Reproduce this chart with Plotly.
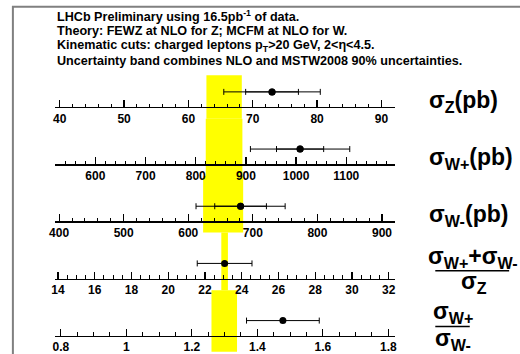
import plotly.graph_objects as go

# ---- data ----
quantities = ["sigma_Z", "sigma_W+", "sigma_W-", "(W+ + W-)/Z", "W+/W-"]
measured = [73.0, 1008.0, 681.0, 23.07, 1.478]
err_inner = [4.1, 47.0, 40.0, 0.0, 0.0]
err_outer = [7.5, 99.0, 69.0, 1.49, 0.111]
theory_low = [62.8, 820.0, 623.0, 22.89, 1.260]
theory_high = [68.3, 893.0, 685.0, 23.25, 1.338]
axis_ranges = [[39.3, 92.1], [520.0, 1197.0], [394.0, 920.0], [13.85, 32.34], [0.783, 1.820]]
major_step = [10, 100, 100, 2, 0.2]
minor_step = [2, 20, 20, 0.5, 0.05]

header_lines = [
    "LHCb Preliminary using 16.5pb<sup>-1</sup> of data.",
    "Theory: FEWZ at NLO for Z; MCFM at NLO for W.",
    "Kinematic cuts: charged leptons p<sub>T</sub>&gt;20 GeV, 2&lt;η&lt;4.5.",
    "Uncertainty band combines NLO and MSTW2008 90% uncertainties.",
]

W, H = 520, 354
def px(x):
    return x / W
def py(y):
    return 1 - y / H

axis_y = [109.5, 168, 226.5, 285, 343.5]      # pixel row of each axis line
band_edges = [77, 121.5, 180, 238, 297, 360]   # pixel rows of band segments
x_left, x_right = 50, 395
FONT = "Liberation Sans"

fig = go.Figure()
layout = dict(
    width=W, height=H, margin=dict(l=0, r=0, t=0, b=0),
    paper_bgcolor="white", plot_bgcolor="rgba(0,0,0,0)",
    showlegend=False,
)
shapes = []
annotations = []

for i in range(5):
    n = "" if i == 0 else str(i + 1)
    xa, ya = "x" + n, "y" + n
    dom_bot = py(axis_y[i])
    dom_top = py(axis_y[i] - 40)
    layout["yaxis" + n] = dict(domain=[dom_bot, dom_top], range=[0, 40],
                                visible=False, fixedrange=True)
    layout["xaxis" + n] = dict(
        domain=[px(x_left), px(x_right)], range=axis_ranges[i], anchor=ya,
        showline=True, linecolor="black", linewidth=1.3, showgrid=False,
        zeroline=False, ticks="inside", ticklen=7, tickwidth=1.2, tickcolor="black",
        tick0=0, dtick=major_step[i], fixedrange=True,
        tickfont=dict(family=FONT, size=12, color="black", weight="bold"),
        minor=dict(ticks="inside", ticklen=3.5, tickwidth=1, tickcolor="black",
                   dtick=minor_step[i], tick0=0, showgrid=False),
    )
    # theory band segment
    shapes.append(dict(type="rect", xref=xa, yref="paper",
                       x0=theory_low[i], x1=theory_high[i],
                       y0=py(band_edges[i + 1]), y1=py(band_edges[i]),
                       fillcolor="#ffff00", line=dict(width=0), layer="below"))
    # outer (total) error
    fig.add_trace(go.Scatter(
        x=[measured[i]], y=[15.5], xaxis=xa, yaxis=ya, mode="markers",
        marker=dict(color="black", size=7),
        error_x=dict(type="data", array=[err_outer[i]], color="black",
                     thickness=1, width=3),
        hoverinfo="skip"))
    if err_inner[i] > 0:
        fig.add_trace(go.Scatter(
            x=[measured[i]], y=[15.5], xaxis=xa, yaxis=ya, mode="markers",
            marker=dict(color="black", size=7),
            error_x=dict(type="data", array=[err_inner[i]], color="black",
                         thickness=1, width=3),
            hoverinfo="skip"))

# frame
shapes.append(dict(type="rect", xref="paper", yref="paper",
                   x0=px(7), x1=1.1, y0=-0.1, y1=py(7),
                   line=dict(color="#808080", width=2), fillcolor="rgba(0,0,0,0)"))

# header
header_y = [16, 31.5, 47, 62.5]
for t, yy in zip(header_lines, header_y):
    annotations.append(dict(text=t, xref="paper", yref="paper", x=px(50), y=py(yy),
                            xanchor="left", yanchor="middle", showarrow=False,
                            font=dict(family=FONT, size=12.6, color="black", weight="bold")))

big = dict(family=FONT, size=23, color="black", weight="bold")
# right-hand labels
simple_labels = ["σ<sub>Z</sub>(pb)", "σ<sub>W+</sub>(pb)", "σ<sub>W-</sub>(pb)"]
for i, t in enumerate(simple_labels):
    annotations.append(dict(text=t, xref="paper", yref="paper", x=px(428), y=py(axis_y[i] - 6),
                            xanchor="left", yanchor="middle", showarrow=False, font=big))

# fraction 1
annotations.append(dict(text="σ<sub>W+</sub>+σ<sub>W-</sub>", xref="paper", yref="paper",
                        x=px(474), y=py(263), xanchor="center", yanchor="middle",
                        showarrow=False, font=big))
shapes.append(dict(type="line", xref="paper", yref="paper", x0=px(436), x1=px(511),
                   y0=py(277), y1=py(277), line=dict(color="black", width=1.5)))
annotations.append(dict(text="σ<sub>Z</sub>", xref="paper", yref="paper",
                        x=px(475), y=py(289), xanchor="center", yanchor="middle",
                        showarrow=False, font=big))
# fraction 2
annotations.append(dict(text="σ<sub>W+</sub>", xref="paper", yref="paper",
                        x=px(454), y=py(320), xanchor="center", yanchor="middle",
                        showarrow=False, font=big))
shapes.append(dict(type="line", xref="paper", yref="paper", x0=px(436), x1=px(471),
                   y0=py(334), y1=py(334), line=dict(color="black", width=1.5)))
annotations.append(dict(text="σ<sub>W-</sub>", xref="paper", yref="paper",
                        x=px(454), y=py(347), xanchor="center", yanchor="middle",
                        showarrow=False, font=big))

layout["shapes"] = shapes
layout["annotations"] = annotations
fig.update_layout(**layout)
fig.write_html("out.html", config={"displayModeBar": False, "staticPlot": True},
               post_script="document.body.style.margin='0';document.body.style.overflow='hidden';")
